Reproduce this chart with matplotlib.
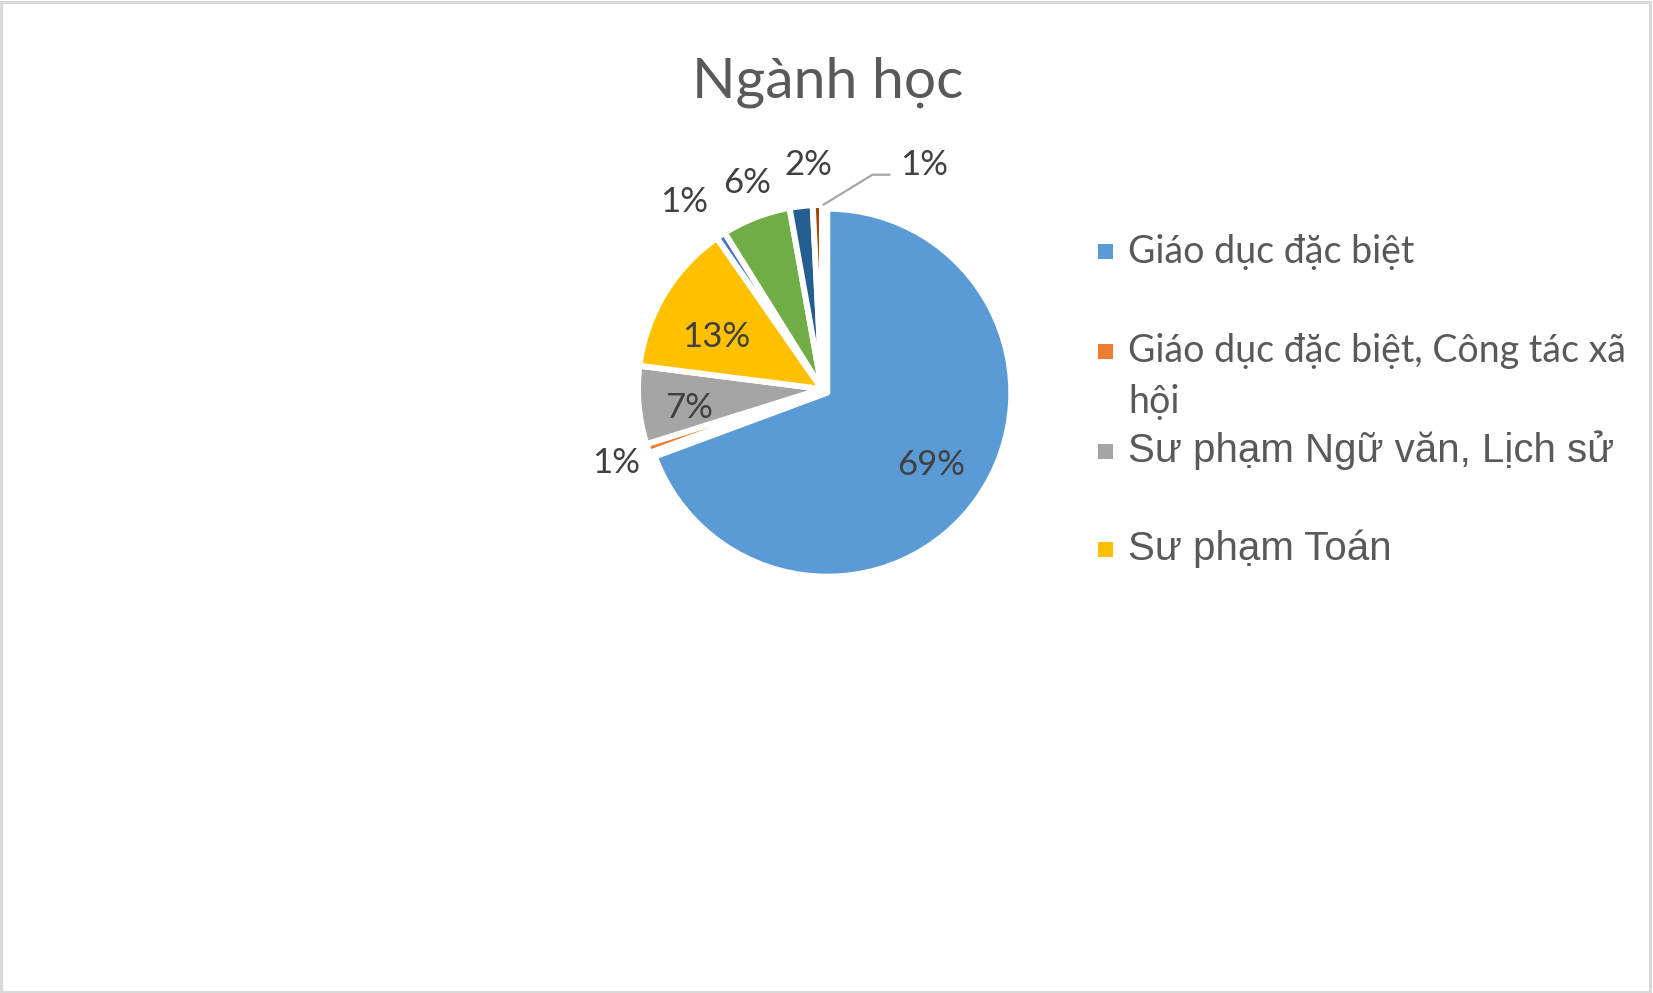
import numpy as np
import matplotlib
matplotlib.use("Agg")
import matplotlib.pyplot as plt
from matplotlib.patches import Rectangle

W, H = 1653, 993

# data
categories = [
    "Giáo dục đặc biệt",
    "Giáo dục đặc biệt, Công tác xã hội",
    "Sư phạm Ngữ văn, Lịch sử",
    "Sư phạm Toán",
    "Ngành 5",
    "Ngành 6",
    "Ngành 7",
    "Ngành 8",
]
counts = [172, 2, 17, 33, 2, 15, 5, 2]
colors = ["#5B9BD5", "#ED7D31", "#A5A5A5", "#FFC000",
          "#4472C4", "#70AD47", "#255E91", "#9E480E"]
legend_labels = ["Giáo dục đặc biệt",
                 "Giáo dục đặc biệt, Công tác xã\nhội",
                 "Sư phạm Ngữ văn, Lịch sử",
                 "Sư phạm Toán"]

# label placement (radius in pie units, angle nudge in degrees)
label_r = [0.72, 1.19, 0.73, 0.64, 1.26, 1.19, 1.22, 1.34]
label_nudge = [0, 1, 3, 5, 3, -1, -3, -26]

CALIBRI = ["Lato", "Open Sans", "DejaVu Sans"]
ARIAL = ["Liberation Sans", "DejaVu Sans"]
plt.rcParams["font.family"] = CALIBRI


def fx(x):
    return x / W


def fy(y):
    return 1 - y / H


fig = plt.figure(figsize=(W / 100, H / 100), dpi=100)
fig.patch.set_facecolor("white")
fig.add_artist(Rectangle((0.0008, 0.0012), 0.9975, 0.9965, transform=fig.transFigure,
                         fill=False, edgecolor="#D9D9D9", linewidth=2.2))

# pie axes: centre (822, 389) px, radius 184 px
cx, cy, R = 822, 389, 184
half = 1.5 * R
ax = fig.add_axes([fx(cx - half), fy(cy + half), 2 * half / W, 2 * half / H])
explode = [0.035] + [0] * (len(counts) - 1)
wedges, _ = ax.pie(counts, colors=colors, startangle=90, counterclock=False,
                   explode=explode, radius=1.0,
                   wedgeprops=dict(edgecolor="white", linewidth=4.3,
                                   joinstyle="round"))
ax.set_xlim(-1.5, 1.5)
ax.set_ylim(-1.5, 1.5)
ax.set_aspect("auto")
ax.axis("off")

total = sum(counts)
for i, w in enumerate(wedges):
    mid = np.deg2rad((w.theta1 + w.theta2) / 2 + label_nudge[i])
    x, y = label_r[i] * np.cos(mid), label_r[i] * np.sin(mid)
    pct = f"{round(100 * counts[i] / total):d}%"
    ax.text(x, y, pct, ha="center", va="center", fontsize=25, color="#404040")
    if i == len(wedges) - 1:
        # leader line for the last thin slice
        m2 = np.deg2rad((w.theta1 + w.theta2) / 2)
        ex, ey = np.cos(m2) + 0.03, np.sin(m2)
        ly = y - 10 / R
        ax.plot([ex, x - 52 / R, x - 34 / R], [ey, ly, ly],
                color="#A6A6A6", lw=1.6, solid_capstyle="butt")

fig.text(fx(827.5), fy(97), "Ngành học", ha="center", va="baseline",
         fontsize=41, color="#595959")

# legend (first four entries visible)
leg_y = [251, 351, 451.5, 549]
leg_base = [262.7, 361.7, 461.7, 560]
leg_font = [CALIBRI, CALIBRI, ARIAL, ARIAL]
leg_size = [27, 27, 29, 29]
for i, lab in enumerate(legend_labels):
    y = leg_y[i]
    fig.add_artist(Rectangle((fx(1097.5), fy(y + 7.5)), 15 / W, 15 / H,
                             transform=fig.transFigure, facecolor=colors[i],
                             edgecolor="none"))
    for k, line in enumerate(lab.split("\n")):
        fig.text(fx(1128), fy(leg_base[i] + 51 * k), line, ha="left",
                 va="baseline", fontsize=leg_size[i], color="#595959",
                 family=leg_font[i])

fig.savefig("out.png", dpi=100)
